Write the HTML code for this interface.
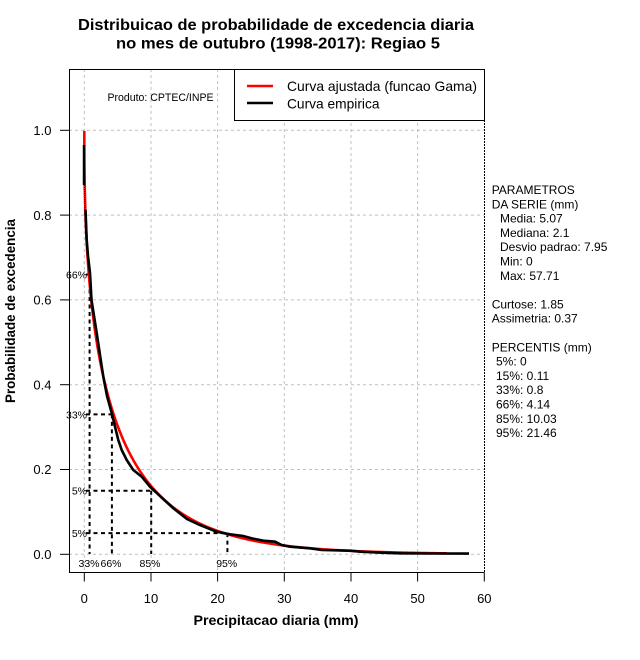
<!DOCTYPE html>
<html><head><meta charset="utf-8"><style>
html,body{margin:0;padding:0;background:#fff;}
svg{display:block;}
text{font-family:"Liberation Sans",Arial,sans-serif;fill:#000;}
</style></head><body>
<svg id="s" width="640" height="660" viewBox="0 0 640 660" xmlns="http://www.w3.org/2000/svg">
<rect width="640" height="660" fill="#fff"/>
<!-- title -->
<text x="276" y="30" font-size="15.5" font-weight="bold" text-anchor="middle" textLength="396" lengthAdjust="spacingAndGlyphs">Distribuicao de probabilidade de excedencia diaria</text>
<text x="278" y="48.5" font-size="15.5" font-weight="bold" text-anchor="middle" textLength="324" lengthAdjust="spacingAndGlyphs">no mes de outubro (1998-2017): Regiao 5</text>

<!-- grid -->
<g stroke="#c0c0c0" stroke-width="1" stroke-dasharray="3,3" fill="none">
<line x1="84.3" y1="69" x2="84.3" y2="572"/>
<line x1="151" y1="69" x2="151" y2="572"/>
<line x1="217.6" y1="69" x2="217.6" y2="572"/>
<line x1="284.3" y1="69" x2="284.3" y2="572"/>
<line x1="351" y1="69" x2="351" y2="572"/>
<line x1="417.6" y1="69" x2="417.6" y2="572"/>
<line x1="69" y1="554.3" x2="484" y2="554.3"/>
<line x1="69" y1="469.5" x2="484" y2="469.5"/>
<line x1="69" y1="384.7" x2="484" y2="384.7"/>
<line x1="69" y1="299.9" x2="484" y2="299.9"/>
<line x1="69" y1="215.1" x2="484" y2="215.1"/>
<line x1="69" y1="130.3" x2="484" y2="130.3"/>
</g>

<!-- percentile dashed lines -->
<g stroke="#000" stroke-width="2" stroke-dasharray="4,3.5" fill="none">
<line x1="86" y1="274.5" x2="89.6" y2="274.5"/>
<line x1="89.6" y1="274.5" x2="89.6" y2="554"/>
<line x1="86" y1="414.4" x2="111.9" y2="414.4"/>
<line x1="111.9" y1="414.4" x2="111.9" y2="554"/>
<line x1="86" y1="490.7" x2="151.2" y2="490.7"/>
<line x1="151.2" y1="490.7" x2="151.2" y2="554"/>
<line x1="86" y1="533.1" x2="227.4" y2="533.1"/>
<line x1="227.4" y1="533.1" x2="227.4" y2="554"/>
</g>
<g font-size="10.5">
<text x="87" y="278.5" text-anchor="end">66%</text>
<text x="87" y="418.4" text-anchor="end">33%</text>
<text x="87" y="494.7" text-anchor="end">5%</text>
<text x="87" y="537.1" text-anchor="end">5%</text>
<text x="89" y="567" text-anchor="middle">33%</text>
<text x="111" y="567" text-anchor="middle">66%</text>
<text x="150" y="567" text-anchor="middle">85%</text>
<text x="226.7" y="567" text-anchor="middle">95%</text>
</g>

<!-- red fitted curve -->
<path id="red" d="" stroke="#ff0000" stroke-width="2.6" fill="none" stroke-linejoin="round"/>

<!-- black empirical curve -->
<path d="M84 145 L84 185" stroke="#000" stroke-width="2.5" fill="none"/>
<path d="M84.3 185 L85 210" stroke="#000" stroke-width="1" stroke-dasharray="1,1" fill="none"/>
<path d="M85.5 210 L86.7 240 L88 256 L90 273 L91.5 300 L96.7 333 L100 355 L103.3 376.7 L107 396 L111.7 413 L115 426.7 L118.3 440 L121.7 450 L126.7 460 L133.3 470 L141.7 476.7 L150 486.7 L160 496 L173 508 L187 519 L200 525 L216.7 531.7 L230 534.3 L243.3 536 L253.3 538.7 L263.3 540.7 L275 541.7 L281.7 545 L290 546.7 L310 548.3 L321.7 550 L350 550.7 L360 551.7 L381.7 552.7 L400 553.3 L430 553.5 L469 553.6" stroke="#000" stroke-width="2.6" fill="none" stroke-linejoin="miter"/>

<!-- frame -->
<g stroke="#000" stroke-width="1" fill="none">
<line x1="69.5" y1="69.5" x2="234.5" y2="69.5"/>
<line x1="69.5" y1="69" x2="69.5" y2="573"/>
<line x1="69" y1="572.5" x2="484.5" y2="572.5"/>
<line x1="484.5" y1="120" x2="484.5" y2="573" stroke-dasharray="2,1"/>
</g>

<!-- legend -->
<rect x="234.5" y="69.5" width="250" height="51" fill="#fff" stroke="#000" stroke-width="1"/>
<line x1="247" y1="86" x2="273" y2="86" stroke="#ff0000" stroke-width="2.6"/>
<line x1="247" y1="103" x2="273" y2="103" stroke="#000" stroke-width="2.6"/>
<text x="287" y="91" font-size="14" textLength="190" lengthAdjust="spacingAndGlyphs">Curva ajustada (funcao Gama)</text>
<text x="287" y="108.3" font-size="14" textLength="92.5" lengthAdjust="spacingAndGlyphs">Curva empirica</text>

<text x="107.5" y="101" font-size="11" textLength="106" lengthAdjust="spacingAndGlyphs">Produto: CPTEC/INPE</text>

<!-- y axis ticks -->
<g stroke="#000" stroke-width="1">
<line x1="60" y1="554.3" x2="69" y2="554.3"/>
<line x1="60" y1="469.5" x2="69" y2="469.5"/>
<line x1="60" y1="384.7" x2="69" y2="384.7"/>
<line x1="60" y1="299.9" x2="69" y2="299.9"/>
<line x1="60" y1="215.1" x2="69" y2="215.1"/>
<line x1="60" y1="130.3" x2="69" y2="130.3"/>
</g>
<g font-size="13" text-anchor="end">
<text x="51.5" y="559">0.0</text>
<text x="51.5" y="474.2">0.2</text>
<text x="51.5" y="389.4">0.4</text>
<text x="51.5" y="304.6">0.6</text>
<text x="51.5" y="219.8">0.8</text>
<text x="51.5" y="135">1.0</text>
</g>

<!-- x axis ticks -->
<g stroke="#000" stroke-width="1">
<line x1="84.3" y1="572.5" x2="84.3" y2="581.5"/>
<line x1="151" y1="572.5" x2="151" y2="581.5"/>
<line x1="217.6" y1="572.5" x2="217.6" y2="581.5"/>
<line x1="284.3" y1="572.5" x2="284.3" y2="581.5"/>
<line x1="351" y1="572.5" x2="351" y2="581.5"/>
<line x1="417.6" y1="572.5" x2="417.6" y2="581.5"/>
<line x1="484.3" y1="572.5" x2="484.3" y2="581.5"/>
</g>
<g font-size="13" text-anchor="middle">
<text x="84.3" y="603">0</text>
<text x="151" y="603">10</text>
<text x="217.6" y="603">20</text>
<text x="284.3" y="603">30</text>
<text x="351" y="603">40</text>
<text x="417.6" y="603">50</text>
<text x="484.3" y="603">60</text>
</g>

<!-- axis titles -->
<text x="276" y="625" font-size="14" font-weight="bold" text-anchor="middle" textLength="165" lengthAdjust="spacingAndGlyphs">Precipitacao diaria (mm)</text>
<text transform="translate(15,311) rotate(-90)" font-size="14" font-weight="bold" text-anchor="middle" textLength="184" lengthAdjust="spacingAndGlyphs">Probabilidade de excedencia</text>

<!-- right panel -->
<g font-size="12">
<text x="491.7" y="194">PARAMETROS</text>
<text x="491.7" y="208.3">DA SERIE (mm)</text>
<text x="500" y="222.6">Media: 5.07</text>
<text x="500" y="236.9">Mediana: 2.1</text>
<text x="500" y="251.2">Desvio padrao: 7.95</text>
<text x="500" y="265.5">Min: 0</text>
<text x="500" y="279.8">Max: 57.71</text>
<text x="491.7" y="308.4">Curtose: 1.85</text>
<text x="491.7" y="322.7">Assimetria: 0.37</text>
<text x="491.7" y="351.3">PERCENTIS (mm)</text>
<text x="496" y="365.6"> 5%: 0</text>
<text x="496" y="379.9">15%: 0.11</text>
<text x="496" y="394.2">33%: 0.8</text>
<text x="496" y="408.5">66%: 4.14</text>
<text x="496" y="422.8">85%: 10.03</text>
<text x="496" y="437.1">95%: 21.46</text>
</g>
</svg>
<script>
(function(){
function gam(z){var g=7,c=[0.99999999999980993,676.5203681218851,-1259.1392167224028,771.32342877765313,-176.61503916999185,12.507343278686905,-0.13857109526572012,9.9843695780195716e-6,1.5056327351493116e-7];
if(z<0.5)return Math.PI/(Math.sin(Math.PI*z)*gam(1-z));z-=1;var x=c[0];for(var i=1;i<g+2;i++)x+=c[i]/(z+i);var t=z+g+0.5;return Math.sqrt(2*Math.PI)*Math.pow(t,z+0.5)*Math.exp(-t)*x;}
function P(a,x){if(x<=0)return 0;var s=1/a,t=1/a;for(var n=1;n<400;n++){t*=x/(a+n);s+=t;if(t<s*1e-13)break;}return Math.pow(x,a)*Math.exp(-x)*s/gam(a);}
var m=5.07,sd=7.95,a=(m/sd)*(m/sd),th=sd*sd/m;
var xs=[1e-6,1e-5,3e-5,1e-4,3e-4,1e-3,2e-3,5e-3,0.01,0.02,0.04,0.07];
for(var x=0.1;x<=54.5;x+=0.1)xs.push(x);
var d="";
for(var i=0;i<xs.length;i++){var S=1-P(a,xs[i]/th);var px=84.3+xs[i]*6.6667,py=554.3-S*424;d+=(i?"L":"M")+px.toFixed(2)+" "+py.toFixed(2);}
document.getElementById("red").setAttribute("d",d);
})();
</script>
</body></html>
